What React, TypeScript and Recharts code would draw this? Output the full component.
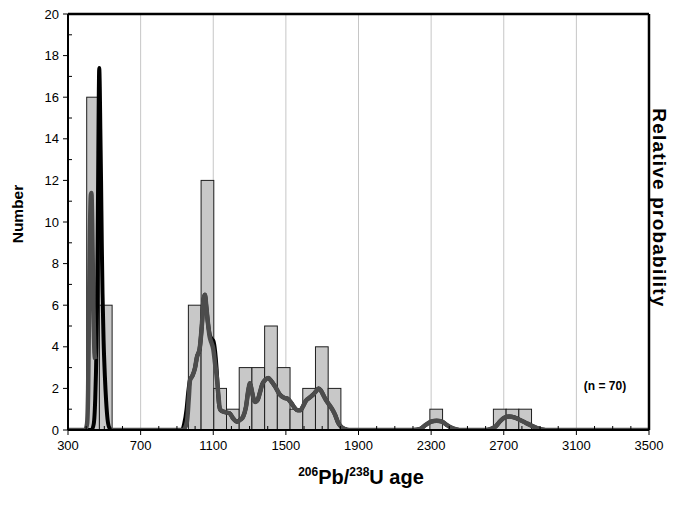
import React from "react"
import {
  ComposedChart,
  Bar,
  Line,
  XAxis,
  YAxis,
  CartesianGrid,
  ReferenceLine,
} from "recharts"

// histogram: 70 Ma bins (start age of each bin) and their counts
const binWidth = 70
const binStarts = [403, 473, 963, 1033, 1103, 1173, 1243, 1313, 1383, 1453, 1523, 1593, 1663, 1733, 2293, 2643, 2713, 2783]
const binCounts = [16, 6, 6, 12, 2, 1, 3, 3, 5, 3, 1, 2, 4, 2, 1, 1, 1, 1]

// black probability curve
const blackAges = [300, 430, 442, 450, 457, 462, 466, 469, 472, 475, 478, 482, 486, 490, 496, 503, 510, 518, 528, 540,
  900, 928, 940, 953, 962, 972, 985, 1000, 1010, 1025, 1037, 1047, 1054, 1062, 1070, 1080, 1090, 1100, 1110, 1118,
  1125, 1132, 1140, 1150, 1170, 1190, 1210, 1230, 1250, 1265, 1280, 1293, 1302, 1312, 1322, 1332, 1345, 1357, 1370,
  1385, 1403, 1420, 1440, 1467, 1490, 1510, 1530, 1545, 1565, 1580, 1595, 1610, 1630, 1650, 1665, 1680, 1693, 1705,
  1720, 1740, 1755, 1770, 1788, 1805, 1825, 1850, 2200, 2240, 2270, 2300, 2330, 2360, 2385, 2410, 2440, 2470, 2600,
  2630, 2655, 2680, 2705, 2730, 2760, 2790, 2820, 2850, 2880, 2910, 2950, 3500]
const blackValues = [0, 0, 0.3, 1.5, 4, 7.5, 12, 15.5, 17.4, 16.5, 14.5, 12, 9, 6.6, 4.3, 2.6, 1.4, 0.5, 0.1, 0,
  0, 0, 0.3, 1.0, 1.8, 2.4, 2.6, 3.0, 3.5, 3.9, 5.0, 6.3, 6.5, 5.9, 5.2, 4.6, 4.4, 4.3, 3.8, 3.0,
  2.0, 1.2, 0.95, 0.9, 0.85, 0.8, 0.55, 0.4, 0.5, 0.65, 1.1, 1.9, 2.25, 1.9, 1.5, 1.35, 1.45, 1.8, 2.2,
  2.4, 2.5, 2.35, 2.1, 1.7, 1.55, 1.5, 1.3, 1.1, 0.95, 0.95, 1.15, 1.4, 1.55, 1.7, 1.85, 2.0, 1.9, 1.7,
  1.45, 1.2, 1.0, 0.75, 0.35, 0.15, 0.05, 0, 0, 0.05, 0.25, 0.4, 0.45, 0.4, 0.25, 0.12, 0.03, 0, 0,
  0.05, 0.17, 0.42, 0.6, 0.65, 0.6, 0.48, 0.35, 0.22, 0.1, 0.03, 0, 0]

// grey probability curve, first peak part
const greyAgesA = [300, 395, 405, 411, 416, 421, 426, 429, 433, 437, 442, 446, 450]
const greyValuesA = [0, 0, 0.3, 2, 6, 9.5, 11.3, 11.4, 10, 7.5, 5, 3.7, 3.4]

// grey probability curve, rest
const greyAgesB = [540, 900, 935, 955, 965, 972, 985, 1000, 1010, 1025, 1037, 1047, 1054, 1062, 1070, 1080, 1090,
  1100, 1110, 1120, 1128, 1137, 1150, 1170, 1190, 1210, 1230, 1250, 1265, 1280, 1293, 1302, 1312, 1322, 1332, 1345,
  1357, 1370, 1385, 1403, 1420, 1440, 1467, 1490, 1510, 1530, 1545, 1565, 1580, 1595, 1610, 1630, 1650, 1665, 1680,
  1693, 1705, 1720, 1740, 1755, 1770, 1788, 1805, 1825, 1850, 2200, 2240, 2270, 2300, 2330, 2360, 2385, 2410, 2440,
  2470, 2600, 2630, 2655, 2680, 2705, 2730, 2760, 2790, 2820, 2850, 2880, 2910, 2950, 3500]
const greyValuesB = [0, 0, 0, 0.4, 1.5, 2.4, 2.6, 3.0, 3.5, 3.9, 5.0, 6.3, 6.5, 5.9, 5.2, 4.5, 4.2,
  3.9, 3.2, 2.5, 1.7, 1.0, 0.9, 0.85, 0.8, 0.55, 0.4, 0.5, 0.65, 1.1, 1.9, 2.25, 1.9, 1.5, 1.35, 1.45,
  1.8, 2.2, 2.4, 2.5, 2.35, 2.1, 1.7, 1.55, 1.5, 1.3, 1.1, 0.95, 0.95, 1.15, 1.4, 1.55, 1.7, 1.85, 2.0,
  1.9, 1.7, 1.45, 1.2, 1.0, 0.75, 0.35, 0.15, 0.05, 0, 0, 0.05, 0.25, 0.4, 0.45, 0.4, 0.25, 0.12, 0.03,
  0, 0, 0.05, 0.17, 0.42, 0.6, 0.65, 0.6, 0.48, 0.35, 0.22, 0.1, 0.03, 0, 0]

// labelled ticks, and every tick (minor ones unlabelled)
const xTicks = [300, 700, 1100, 1500, 1900, 2300, 2700, 3100, 3500]
const xAllTicks = Array.from({ length: 33 }, (_, i) => 300 + i * 100)
const yTicks = [0, 2, 4, 6, 8, 10, 12, 14, 16, 18, 20]
const yAllTicks = Array.from({ length: 21 }, (_, i) => i)

type Row = { age: number; count?: number; black?: number; greyA?: number; greyB?: number }

function buildRows(): Row[] {
  const map = new Map<number, Row>()
  const put = (age: number, key: keyof Row, v: number) => {
    const r = map.get(age) ?? { age }
    ;(r as any)[key] = v
    map.set(age, r)
  }
  binStarts.forEach((s, i) => put(s + binWidth / 2, "count", binCounts[i]))
  blackAges.forEach((a, i) => put(a, "black", blackValues[i]))
  greyAgesA.forEach((a, i) => put(a, "greyA", greyValuesA[i]))
  greyAgesB.forEach((a, i) => put(a, "greyB", greyValuesB[i]))
  return Array.from(map.values()).sort((a, b) => a.age - b.age)
}

const rows = buildRows()

const W = 673
const H = 505
const LEFT = 68
const RIGHT_AXIS = 24
const BOTTOM = 75
const PLOT_W = W - LEFT - RIGHT_AXIS
const TICK_GAP = 10 // tickSize + tickMargin used for label placement
const font = "Arial, 'Liberation Sans', sans-serif"

// bars sit on a numeric axis, so recharts gives them a tiny band: redraw each one
// as a full bin around the centre recharts placed it at
function BinBar(props: any) {
  const { x, y, width, height } = props
  if (height == null || !isFinite(height) || height <= 0) return null
  const w = (PLOT_W * binWidth) / 3200
  const cx = x + width / 2
  return <rect x={cx - w / 2} y={y} width={w} height={height} fill="#c8c8c8" stroke="#1e1e1e" strokeWidth={1} />
}

// major ticks point out and carry a label, minor ticks point into the plot
function XTick(props: any) {
  const { x, y, payload } = props
  const axisY = y - TICK_GAP
  const major = xTicks.includes(payload.value)
  return (
    <g>
      <line x1={x} x2={x} y1={axisY} y2={major ? axisY + 5 : axisY - 4} stroke="#000" strokeWidth={1} />
      {major && (
        <text x={x} y={y + 1} dy="0.71em" textAnchor="middle" fontSize={13} fontFamily={font} fill="#000">
          {payload.value}
        </text>
      )}
    </g>
  )
}

function YTick(props: any) {
  const { x, y, payload } = props
  const axisX = x + TICK_GAP
  const major = yTicks.includes(payload.value)
  return (
    <g>
      <line x1={axisX} x2={major ? axisX - 5 : axisX + 4} y1={y} y2={y} stroke="#000" strokeWidth={1} />
      {major && (
        <text x={x + 1} y={y} dy="0.355em" textAnchor="end" fontSize={13} fontFamily={font} fill="#000">
          {payload.value}
        </text>
      )}
    </g>
  )
}

export default function App() {
  return (
    <div style={{ position: "absolute", left: 0, top: 0, width: W, height: H, background: "#fff" }}>
      <ComposedChart width={W} height={H} data={rows} margin={{ top: 14, right: 0, bottom: 0, left: 0 }}>
        <CartesianGrid horizontal={false} verticalValues={xTicks} stroke="#c6c6c6" strokeWidth={1} />
        <XAxis
          dataKey="age"
          type="number"
          domain={[300, 3500]}
          ticks={xAllTicks}
          interval={0}
          tickSize={5}
          tickMargin={TICK_GAP - 5}
          height={BOTTOM}
          tick={<XTick />}
          tickLine={false}
          axisLine={{ stroke: "#000", strokeWidth: 2 }}
          allowDataOverflow
        />
        <YAxis
          domain={[0, 20]}
          ticks={yAllTicks}
          interval={0}
          width={LEFT}
          tickSize={5}
          tickMargin={TICK_GAP - 5}
          tick={<YTick />}
          tickLine={false}
          axisLine={{ stroke: "#000", strokeWidth: 2 }}
          allowDataOverflow
        />
        <YAxis yAxisId="right" orientation="right" width={RIGHT_AXIS} domain={[0, 20]} tick={false}
          tickLine={false} axisLine={{ stroke: "#000", strokeWidth: 2.5 }} />
        <ReferenceLine y={20} stroke="#000" strokeWidth={2.5} ifOverflow="visible" />
        <Bar dataKey="count" shape={BinBar} isAnimationActive={false} />
        <Line dataKey="black" type="monotone" stroke="#000" strokeWidth={4} dot={false} activeDot={false}
          connectNulls isAnimationActive={false} />
        <Line dataKey="greyA" type="monotone" stroke="#4c4c4c" strokeWidth={4.5} dot={false} activeDot={false}
          connectNulls isAnimationActive={false} />
        <Line dataKey="greyB" type="monotone" stroke="#4c4c4c" strokeWidth={4.5} dot={false} activeDot={false}
          connectNulls isAnimationActive={false} />
      </ComposedChart>

      <div style={{ position: "absolute", left: 18, top: 214, transform: "translate(-50%, -50%) rotate(-90deg)",
        fontFamily: font, fontWeight: "bold", fontSize: 15.5, whiteSpace: "nowrap" }}>
        Number
      </div>
      <div style={{ position: "absolute", left: 659, top: 208, transform: "translate(-50%, -50%) rotate(90deg)",
        fontFamily: font, fontWeight: "bold", fontSize: 19, letterSpacing: 1.2, whiteSpace: "nowrap" }}>
        Relative probability
      </div>
      <div style={{ position: "absolute", left: 361, top: 477, transform: "translate(-50%, -50%)",
        fontFamily: font, fontWeight: "bold", fontSize: 20, whiteSpace: "nowrap" }}>
        <sup style={{ fontSize: 12 }}>206</sup>Pb/<sup style={{ fontSize: 12 }}>238</sup>U age
      </div>
      <div style={{ position: "absolute", left: 605, top: 386, transform: "translate(-50%, -50%)",
        fontFamily: font, fontWeight: "bold", fontSize: 12, whiteSpace: "nowrap" }}>
        (n = 70)
      </div>
    </div>
  )
}
